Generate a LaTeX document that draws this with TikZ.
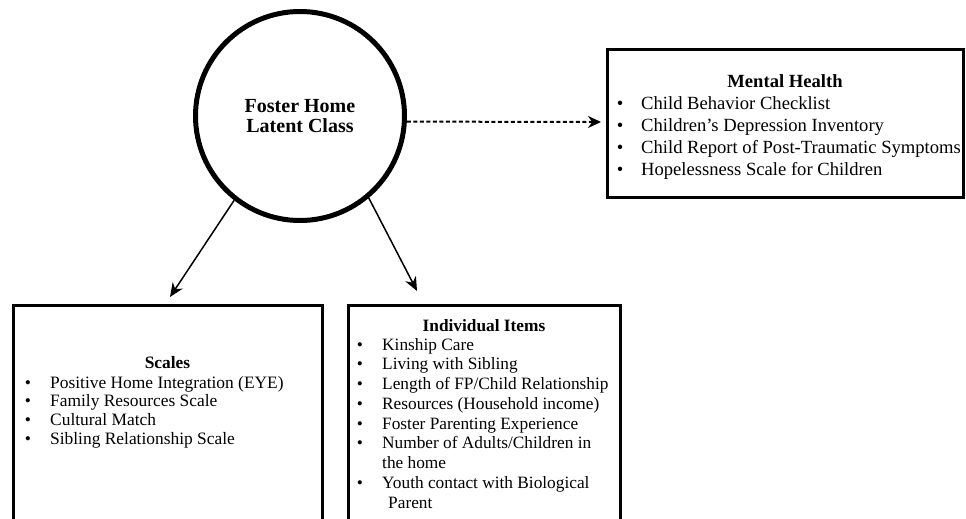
\documentclass[tikz,border=0pt]{standalone}
\usepackage{fontspec}
\setmainfont{Liberation Serif}
\usetikzlibrary{arrows.meta}
\begin{document}
\begin{tikzpicture}[x=1pt,y=-1pt,
  boxframe/.style={draw, line width=3pt, rectangle, inner sep=0pt},
  itemtext/.style={anchor=base west, inner sep=0pt},
  bul/.style={anchor=base, inner sep=0pt},
  head/.style={anchor=base, inner sep=0pt},
  arr/.style={line width=1.5pt, -{Stealth[length=14pt,width=12pt]}},
]
\clip (0,0) rectangle (966,519);
% latent class circle
\node[circle, draw, line width=5pt, minimum size=209pt, inner sep=0pt,
      align=center, font=\fontsize{20}{20}\selectfont\bfseries] (fh) at (300,116)
      {Foster Home\\Latent Class};
% boxes
\node[boxframe, minimum width=356pt, minimum height=147pt] (mh) at (785,123.5) {};
\node[boxframe, minimum width=309pt, minimum height=240pt] (sc) at (167.5,425) {};
\node[boxframe, minimum width=272pt, minimum height=240pt] (ii) at (484,425) {};
% mental health text
\begin{scope}[font=\fontsize{18.6}{22}\selectfont]
\node[head] (mhh) at (785,87) {\bfseries Mental Health};
\foreach \t [count=\i from 0] in {Child Behavior Checklist, Children\symbol{39}s Depression Inventory, Child Report of Post-Traumatic Symptoms, Hopelessness Scale for Children}{
  \node[bul] (mhb\i) at (620,109+22*\i) {\textbullet};
  \node[itemtext] (mht\i) at (641,109+22*\i) {\t};
}
\end{scope}
% scales text
\begin{scope}[font=\fontsize{17.4}{19}\selectfont]
\node[head] (sch) at (167.5,368) {\bfseries Scales};
\foreach \t [count=\i from 0] in {Positive Home Integration (EYE), Family Resources Scale, Cultural Match, Sibling Relationship Scale}{
  \node[bul] (scb\i) at (28,388+18.7*\i) {\textbullet};
  \node[itemtext] (sct\i) at (50,388+18.7*\i) {\t};
}
\end{scope}
% individual items text
\begin{scope}[font=\fontsize{17.3}{19}\selectfont]
\node[head] (iih) at (484,331) {\bfseries Individual Items};
\foreach \t [count=\i from 0] in {Kinship Care, Living with Sibling, Length of FP/Child Relationship, Resources (Household income), Foster Parenting Experience, Number of Adults/Children in}{
  \node[bul] (iib\i) at (360,350+19.75*\i) {\textbullet};
  \node[itemtext] (iit\i) at (382,350+19.75*\i) {\t};
}
\node[itemtext] (iit6) at (382,350+19.75*6) {the home};
\node[bul] (iib7) at (360,350+19.75*7) {\textbullet};
\node[itemtext] (iit7) at (382,350+19.75*7) {Youth contact with Biological};
\node[itemtext] (iit8) at (388,350+19.75*8) {Parent};
\end{scope}
% connectors
\coordinate (tipL) at (170,297);
\coordinate (tipR) at (417,291);
\coordinate (tipM) at (601,122);
\draw[arr] (fh.232) -- (tipL);
\draw[arr] (fh.310) -- (tipR);
\draw[line width=2pt, dash pattern=on 4pt off 2.5pt, -{Stealth[length=13pt,width=12pt]}] (fh.-3.3) -- (tipM);
\end{tikzpicture}
\end{document}
